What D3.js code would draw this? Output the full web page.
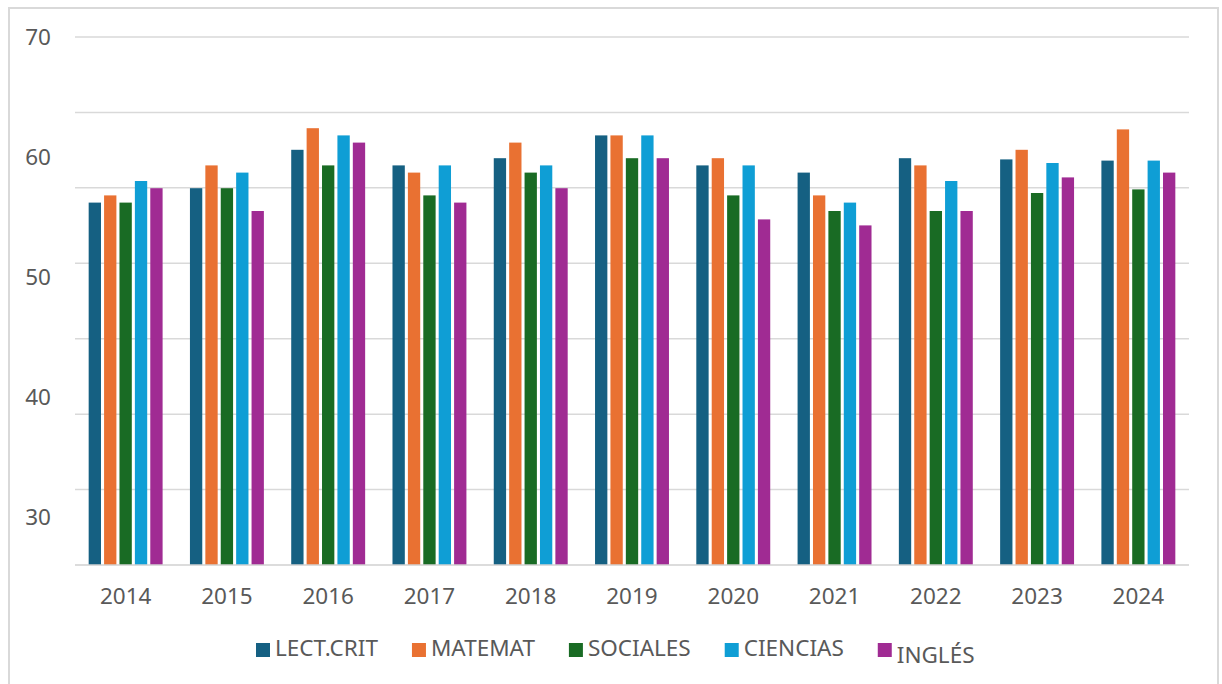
<!DOCTYPE html>
<html>
<head>
<meta charset="utf-8">
<script src="https://cdn.jsdelivr.net/npm/d3@7"></script>
<style>
  body { margin: 0; background: #fff; }
  svg { display: block; font-family: "Noto Sans", "DejaVu Sans", sans-serif; }
  .tick-label { fill: #595959; font-size: 22.5px; }
</style>
</head>
<body>
<svg width="1222" height="684"></svg>
<script>
// chart data
let years = ["2014", "2015", "2016", "2017", "2018", "2019", "2020", "2021", "2022", "2023", "2024"];
let series = ["LECT.CRIT", "MATEMAT", "SOCIALES", "CIENCIAS", "INGLÉS"];
let lectCrit = [56.2, 57.4, 60.6, 59.3, 59.9, 61.8, 59.3, 58.7, 59.9, 59.8, 59.7];
let matemat  = [56.8, 59.3, 62.4, 58.7, 61.2, 61.8, 59.9, 56.8, 59.3, 60.6, 62.3];
let sociales = [56.2, 57.4, 59.3, 56.8, 58.7, 59.9, 56.8, 55.5, 55.5, 57.0, 57.3];
let ciencias = [58.0, 58.7, 61.8, 59.3, 59.3, 61.8, 59.3, 56.2, 58.0, 59.5, 59.7];
let ingles   = [57.4, 55.5, 61.2, 56.2, 57.4, 59.9, 54.8, 54.3, 55.5, 58.3, 58.7];
let yTickLabels = [70, 60, 50, 40, 30];

let colors = ["#156082", "#E97132", "#196B24", "#0F9ED5", "#A02B93"];
let values = [lectCrit, matemat, sociales, ciencias, ingles];

let svg = d3.select("svg");

// outer frame
svg.append("rect")
  .attr("x", 9).attr("y", 8)
  .attr("width", 1209).attr("height", 700)
  .attr("fill", "none")
  .attr("stroke", "#d9d9d9")
  .attr("stroke-width", 2);

let plot = { left: 75, right: 1189, top: 37, bottom: 565 };
let yMin = 26, yMax = 70;

let x0 = d3.scaleBand().domain(years).range([plot.left, plot.right])
  .paddingInner(0.27).paddingOuter(0.135);
let x1 = d3.scaleBand().domain(series).range([0, x0.bandwidth()]).paddingInner(0.2);
let y = d3.scaleLinear().domain([yMin, yMax]).range([plot.bottom, plot.top]);

// gridlines (7 equal intervals between baseline and top)
let gridValues = d3.range(1, 8).map(i => yMin + i * (yMax - yMin) / 7);
svg.append("g").selectAll("line")
  .data(gridValues)
  .enter().append("line")
  .attr("x1", plot.left).attr("x2", plot.right)
  .attr("y1", d => y(d)).attr("y2", d => y(d))
  .attr("stroke", "#d9d9d9")
  .attr("stroke-width", 1.5);

// bars
let rows = [];
years.forEach((yr, i) => {
  series.forEach((s, j) => rows.push({ year: yr, key: s, value: values[j][i], color: colors[j] }));
});

svg.append("g").selectAll("rect")
  .data(rows)
  .enter().append("rect")
  .attr("x", d => x0(d.year) + x1(d.key))
  .attr("y", d => y(d.value))
  .attr("width", x1.bandwidth())
  .attr("height", d => y(yMin) - y(d.value))
  .attr("fill", d => d.color);

// baseline
svg.append("line")
  .attr("x1", plot.left).attr("x2", plot.right)
  .attr("y1", y(yMin)).attr("y2", y(yMin))
  .attr("stroke", "#d0d0d0")
  .attr("stroke-width", 1.5);

// y labels
svg.append("g").selectAll("text")
  .data(yTickLabels)
  .enter().append("text")
  .attr("class", "tick-label")
  .attr("x", 51)
  .attr("y", d => y(d))
  .attr("dy", "0.35em")
  .attr("text-anchor", "end")
  .text(d => d);

// x labels
svg.append("g").selectAll("text")
  .data(years)
  .enter().append("text")
  .attr("class", "tick-label")
  .attr("x", d => x0(d) + x0.bandwidth() / 2)
  .attr("y", 604)
  .attr("text-anchor", "middle")
  .text(d => d);

// legend
let legend = svg.append("g");
let items = legend.selectAll("g")
  .data(series)
  .enter().append("g");
items.append("rect")
  .attr("width", 14).attr("height", 14)
  .attr("y", 643)
  .attr("fill", (d, i) => colors[i]);
items.append("text")
  .attr("class", "tick-label")
  .attr("y", (d, i) => i === 4 ? 663 : 656)
  .text(d => d);

let cursor = 256;
items.each(function () {
  let g = d3.select(this);
  let w = g.select("text").node().getComputedTextLength();
  g.select("rect").attr("x", cursor);
  g.select("text").attr("x", cursor + 19);
  cursor += 19 + w + 34;
});
</script>
</body>
</html>
